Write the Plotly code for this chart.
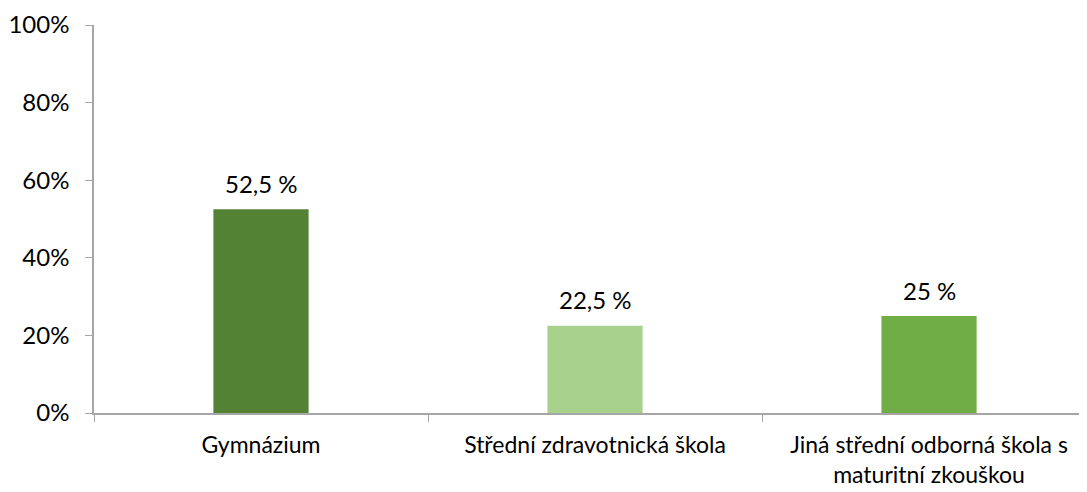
import plotly.graph_objects as go

categories = ["Gymnázium", "Střední zdravotnická škola", "Jiná střední odborná škola s<br>maturitní zkouškou"]
values = [52.5, 22.5, 25]
labels = ["52,5 %", "22,5 %", "25 %"]
colors = ["#548235", "#A9D18E", "#70AD47"]

FONT = "Lato, Open Sans, sans-serif"
FS = 24

fig = go.Figure()
fig.add_trace(go.Bar(
    x=categories, y=values, marker=dict(color=colors, line=dict(width=0)),
    width=0.285, hoverinfo="skip",
))
for c, v, t in zip(categories, values, labels):
    fig.add_annotation(x=c, y=v, text=t, showarrow=False, yshift=26,
                       font=dict(family=FONT, size=FS, color="#000000"))

# page body has an 8px default margin, so the figure is drawn at (8, 8)
fig.update_layout(
    width=1079, height=484,
    margin=dict(l=86, r=0, t=17, b=79),
    plot_bgcolor="white", paper_bgcolor="white",
    showlegend=False,
    font=dict(family=FONT, size=FS, color="#000000"),
)
fig.update_xaxes(
    type="category", range=[-0.5, 2.473],
    showline=True, linecolor="#A6A6A6", linewidth=1.5,
    ticks="outside", ticklen=7, tickcolor="#A6A6A6", tickson="boundaries",
    showgrid=False, tickfont=dict(family=FONT, size=23, color="#000000"),
    ticklabelstandoff=11, automargin=False,
)
fig.update_yaxes(
    range=[0, 100], dtick=20, ticksuffix="%",
    showline=True, linecolor="#A6A6A6", linewidth=1.5,
    ticks="outside", ticklen=7, tickcolor="#A6A6A6",
    showgrid=False, zeroline=False,
    tickfont=dict(family=FONT, size=FS, color="#000000"),
    ticklabelstandoff=11, automargin=False,
)
fig.write_html("out.html")
